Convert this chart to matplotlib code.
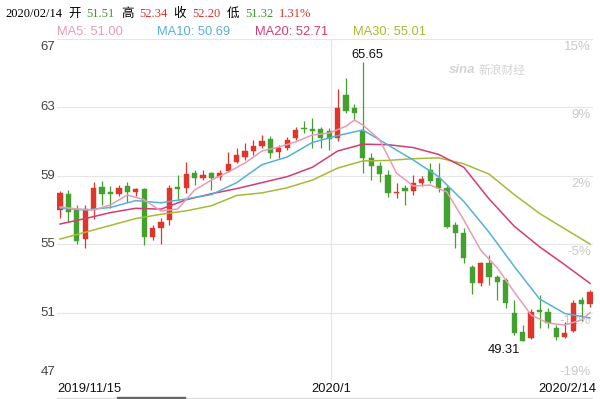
import matplotlib
matplotlib.use("Agg")
import matplotlib.pyplot as plt
import matplotlib.transforms as mtransforms
from matplotlib.patches import Rectangle

# daily candles 2019/11/15 .. 2020/2/14
opens = [57.00, 57.94, 57.00, 55.30, 57.00, 58.35, 58.05, 57.94, 58.40, 58.05,
         58.23, 55.42, 55.95, 56.42, 58.35, 58.29, 59.16, 58.87, 59.16, 58.93,
         59.28, 59.80, 60.10, 60.45, 60.74, 61.15, 60.39, 60.63, 61.21, 61.80,
         61.74, 61.74, 61.62, 61.21, 63.73, 62.96, 61.62, 60.04, 59.57, 59.05,
         57.99, 58.29, 58.11, 58.58, 59.34, 58.87, 58.29, 56.12, 55.65, 53.67,
         52.73, 53.90, 53.08, 52.90, 50.98, 49.87, 49.51, 51.15, 51.04, 50.10,
         49.57, 49.92, 51.74, 51.51]
highs = [58.11, 58.17, 57.30, 57.30, 58.64, 58.70, 58.40, 58.46, 58.64, 58.29,
         58.29, 56.12, 56.53, 58.46, 59.05, 59.80, 59.34, 59.34, 59.22, 59.34,
         60.39, 60.60, 60.90, 61.10, 61.39, 61.33, 60.80, 61.27, 61.86, 62.20,
         62.38, 61.86, 61.80, 64.08, 64.70, 63.20, 65.65, 60.33, 59.80, 59.34,
         58.58, 58.46, 59.05, 58.99, 59.75, 59.75, 58.46, 56.30, 55.95, 53.78,
         53.96, 54.37, 53.20, 53.02, 51.74, 50.27, 51.21, 52.03, 51.27, 50.27,
         50.45, 51.74, 51.92, 52.34]
lows = [56.53, 56.30, 55.00, 54.78, 56.50, 57.30, 57.10, 57.80, 57.47, 57.80,
        54.95, 55.25, 55.00, 56.12, 57.60, 58.00, 58.46, 58.75, 58.17, 58.75,
        59.20, 59.75, 59.90, 60.20, 60.60, 60.04, 60.04, 60.50, 61.10, 61.50,
        60.63, 60.63, 60.50, 61.03, 62.67, 62.26, 59.16, 58.75, 58.64, 57.76,
        57.70, 57.30, 57.88, 58.40, 58.58, 58.05, 55.95, 54.78, 53.90, 52.10,
        52.55, 52.61, 51.74, 51.27, 49.70, 49.31, 49.45, 50.10, 50.10, 49.40,
        49.50, 49.86, 50.51, 51.32]
closes = [57.99, 56.88, 55.19, 57.06, 58.29, 57.94, 57.94, 58.29, 58.05, 58.23,
          55.42, 55.95, 56.30, 58.29, 58.23, 59.10, 58.87, 59.05, 58.87, 59.16,
          59.69, 60.20, 60.45, 60.74, 61.04, 60.33, 60.63, 61.10, 61.68, 61.74,
          61.62, 61.21, 61.15, 62.96, 62.80, 62.67, 60.04, 59.57, 59.10, 57.99,
          58.05, 58.11, 58.58, 58.81, 58.70, 58.29, 56.00, 55.65, 54.19, 52.73,
          53.90, 53.08, 52.79, 51.56, 49.81, 49.34, 51.04, 51.04, 50.39, 49.57,
          49.81, 51.56, 51.50, 52.20]

# moving averages, read at sampled candles
ma5_idx = [0, 2, 4, 6, 8, 10, 12, 14, 16, 18, 20, 22, 24, 26, 28, 30, 32, 34,
           35, 36, 38, 40, 42, 44, 46, 48, 50, 52, 54, 56, 58, 60, 62, 63]
ma5 = [57.18, 57.06, 57.00, 57.30, 57.88, 57.60, 56.94, 57.06, 58.17, 58.75,
       59.22, 59.75, 60.45, 60.68, 60.98, 61.39, 61.50, 61.90, 62.26, 61.97,
       61.10, 59.16, 58.40, 58.46, 58.05, 56.42, 54.66, 53.60, 52.20, 50.86,
       50.39, 50.27, 50.57, 51.00]
ma_idx = [0, 3, 6, 9, 12, 15, 18, 21, 24, 27, 30, 33, 36, 39, 42, 45, 48, 51,
          54, 57, 60, 63]
ma10 = [57.12, 57.00, 57.15, 57.55, 57.42, 57.65, 57.90, 58.60, 59.65, 60.10,
        60.95, 61.35, 61.68, 60.80, 59.92, 58.95, 57.50, 55.70, 53.70, 51.80,
        50.95, 50.69]
ma20 = [56.18, 56.50, 56.85, 57.10, 57.05, 57.60, 57.95, 58.25, 58.60, 58.95,
        59.50, 60.45, 60.85, 60.82, 60.65, 60.25, 59.50, 57.65, 56.05, 54.85,
        53.80, 52.71]
ma30 = [55.30, 55.70, 56.10, 56.50, 56.75, 56.95, 57.25, 57.85, 58.00, 58.30,
        58.75, 59.45, 59.87, 59.90, 60.00, 60.05, 59.70, 59.10, 57.90, 56.80,
        55.90, 55.01]

price_ticks = [67, 63, 59, 55, 51, 47]
pct_labels = ["15%", "9%", "2%", "-5%", "-12%", "-19%"]
date_labels = ["2019/11/15", "2020/1", "2020/2/14"]
month_pos = 32.2

header = [("2020/02/14", "#000000"), ("开", "#000000"), ("51.51", "#3f962f"),
          ("高", "#000000"), ("52.34", "#d7342b"), ("收", "#000000"),
          ("52.20", "#d7342b"), ("低", "#000000"), ("51.32", "#3f962f"),
          ("1.31%", "#d7342b")]
legend_items = [("MA5: 51.00", "#e99bb5"), ("MA10: 50.69", "#55b1d8"),
                ("MA20: 52.71", "#d63c72"), ("MA30: 55.01", "#a6ba35")]

RED = "#e0352b"
GREEN = "#44a02f"
SANS = ["Liberation Sans", "DejaVu Sans"]

fig = plt.figure(figsize=(6, 3.99), dpi=100)
ax = fig.add_axes([57 / 600, 1 - 381 / 399, 536 / 600, 342 / 399])
ax.set_xlim(-0.36, 63.36)
ax.set_ylim(47, 67)
for s in ax.spines.values():
    s.set_visible(False)
ax.set_xticks([])
ax.set_yticks([])

# grid
for p in price_ticks:
    ax.axhline(p, color="#e6e6e6", lw=0.8, zorder=0)
ax.axvline(month_pos, color="#e6e6e6", lw=0.8, zorder=0)

# candles
n = len(opens)
for i in range(n):
    o, h, l, c = opens[i], highs[i], lows[i], closes[i]
    col = RED if c >= o else GREEN
    ax.vlines(i, l, h, color=col, lw=0.9, zorder=3)
    ax.bar(i, max(abs(c - o), 0.07), bottom=min(o, c), width=0.62,
           color=col, edgecolor=col, lw=0.3, zorder=4)

# moving averages
ax.plot(ma_idx, ma30, color="#a6ba35", lw=1.1, zorder=5)
ax.plot(ma_idx, ma20, color="#d63c72", lw=1.1, zorder=5)
ax.plot(ma_idx, ma10, color="#55b1d8", lw=1.1, zorder=5)
ax.plot(ma5_idx, ma5, color="#e99bb5", lw=1.1, zorder=5)

# axis labels
ytrans = mtransforms.blended_transform_factory(ax.transAxes, ax.transData)
for k, (p, lab) in enumerate(zip(price_ticks, pct_labels)):
    if k == 0:
        va, dy = "top", -2
    elif k == len(price_ticks) - 1:
        va, dy = "bottom", 3
    else:
        va, dy = "center", 0
    off = mtransforms.offset_copy(ytrans, fig=fig, x=-2, y=dy, units="dots")
    ax.text(0, p, str(p), transform=off, ha="right", va=va, fontsize=9.5,
            color="#444444", family=SANS)
    rva, rdy = ("bottom", 3) if k == len(price_ticks) - 1 else ("top", -2)
    roff = mtransforms.offset_copy(ytrans, fig=fig, x=-2, y=rdy, units="dots")
    ax.text(1, p, lab, transform=roff, ha="right", va=rva, fontsize=9.5,
            color="#c9c9c9", family=SANS, zorder=1)

xtrans = mtransforms.blended_transform_factory(ax.transData, ax.transAxes)
ax.text(-0.36, -0.022, date_labels[0], transform=xtrans, ha="left",
        va="center", fontsize=9.3, color="#111111", family=SANS)
ax.text(month_pos, -0.022, date_labels[1], transform=xtrans, ha="center",
        va="center", fontsize=9.3, color="#111111", family=SANS)
ax.text(1.006, -0.022, date_labels[2], transform=ax.transAxes, ha="right",
        va="center", fontsize=9.3, color="#111111", family=SANS)

# high / low marks
imax = highs.index(max(highs))
imin = lows.index(min(lows))
ax.annotate(f"{highs[imax]:.2f}", (imax, highs[imax]), xytext=(3, 0.5),
            textcoords="offset points", ha="center", va="bottom",
            fontsize=9.3, color="#111111", family=SANS, zorder=6)
ax.annotate(f"{lows[imin]:.2f}", (imin, lows[imin]), xytext=(-2, -2),
            textcoords="offset points", ha="right", va="top",
            fontsize=9.3, color="#111111", family=SANS, zorder=6)

# watermark
renderer = fig.canvas.get_renderer()
wm = fig.text(449 / 600, 1 - 70 / 399, "sina", fontsize=9.5, color="#d4d4d4",
              style="italic", weight="bold", family=SANS, va="center")
wx = wm.get_window_extent(renderer).x1 + 3
fig.text(wx / 600, 1 - 70 / 399, "新浪财经", fontsize=8.5, color="#d4d4d4",
         family=["Noto Sans CJK SC"], va="center")

# header line, pieces laid out one after another
x = 5
for txt, col in header:
    t = fig.text(x / 600, 1 - 14 / 399, txt, fontsize=9, color=col,
                 family=["Liberation Serif", "Noto Sans CJK SC"], va="center")
    x = t.get_window_extent(renderer).x1 + 6

legend_x = [57, 157, 255, 353]
for (txt, col), lx in zip(legend_items, legend_x):
    fig.text(lx / 600, 1 - 32 / 399, txt, fontsize=9.3, color=col,
             family=SANS, va="center")

# range slider at the bottom
fig.add_artist(Rectangle((57 / 600, 0), 535 / 600, 1 / 399,
                         transform=fig.transFigure, color="#dddddd"))
fig.add_artist(Rectangle((117 / 600, 0), 68 / 600, 2.5 / 399,
                         transform=fig.transFigure, color="#666666"))

fig.savefig("out.png", dpi=100)
